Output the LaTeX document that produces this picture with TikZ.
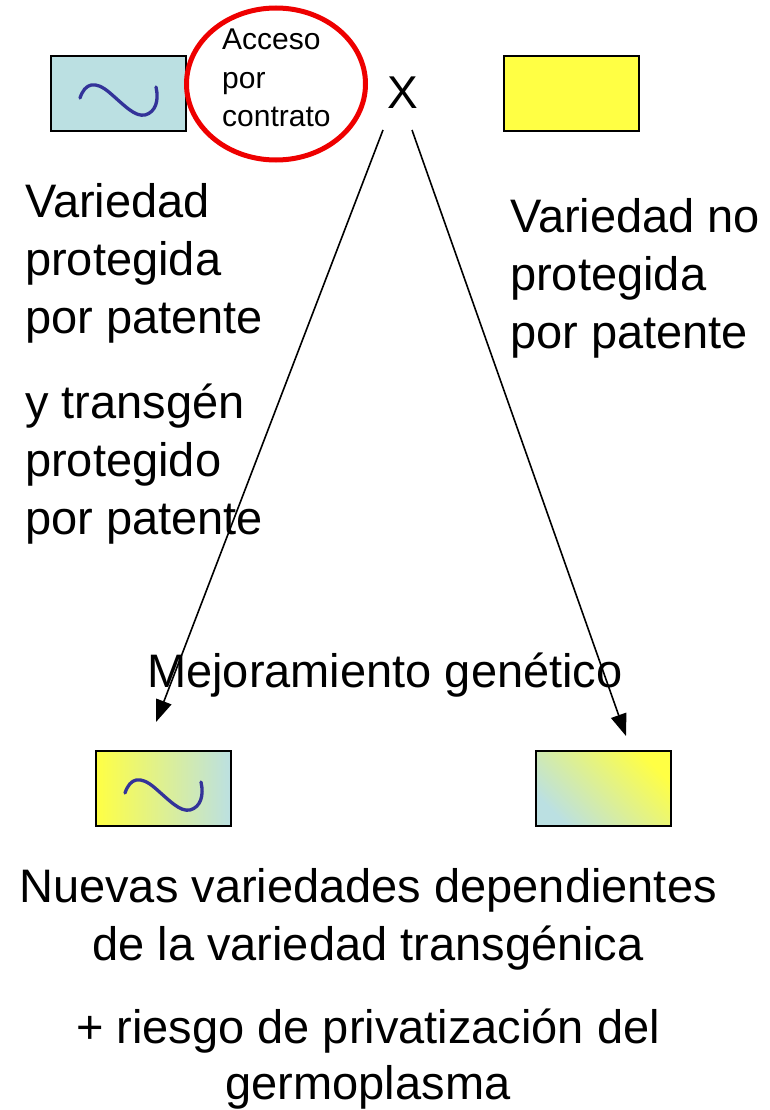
\documentclass[tikz,border=0pt]{standalone}
\usepackage{fontspec}
\setmainfont{Liberation Sans}
\usetikzlibrary{arrows.meta,shapes.geometric}
\definecolor{lb}{RGB}{187,224,226}
\definecolor{ylw}{RGB}{255,255,68}
\definecolor{wave}{RGB}{51,51,153}
\definecolor{ringred}{RGB}{238,0,0}
\tikzset{
  box/.style={draw=black,line width=2pt,minimum width=135pt,minimum height=75pt,inner sep=0pt},
  big/.style={font=\fontsize{47}{58}\selectfont,inner sep=0pt},
  small/.style={font=\fontsize{30}{38.5}\selectfont,inner sep=0pt},
  link/.style={line width=1.6pt,-{Triangle[length=22pt,width=16pt]}},
  wavy/.style={draw=wave,line width=3.3pt,line cap=round}
}
\begin{document}
\begin{tikzpicture}[x=1pt,y=-1pt]
\useasboundingbox (0,0) rectangle (770,1110);
% top boxes
\node[box,fill=lb,anchor=north west] (pat) at (50,55) {};
\node[box,fill=ylw,anchor=north west] (nopat) at (503,55) {};
% bottom boxes
\node[box,left color=ylw,right color=lb,anchor=north west] (newl) at (95,750) {};
\node[box,top color=ylw,bottom color=lb,shading angle=-45,anchor=north west] (newr) at (535,750) {};
% waves
\draw[wavy] (80,98) .. controls (85,83) and (95,80) .. (110,93)
  .. controls (125,106) and (135,117) .. (145,115)
  .. controls (156,112) and (159,100) .. (156,87);
\draw[wavy] (125,793) .. controls (130,778) and (140,775) .. (155,788)
  .. controls (170,801) and (180,812) .. (190,810)
  .. controls (201,807) and (204,795) .. (201,782);
% ellipse
\node[ellipse,draw=ringred,line width=5pt,minimum width=179pt,minimum height=152pt,inner sep=0pt] (ring) at (276,84) {};
\node[small,anchor=base west,align=left] (acc) at (222,127) {Acceso\\por\\contrato};
% cross
\node[font=\fontsize{46}{50}\selectfont,inner sep=0pt,anchor=base] (x) at (403,109) {X};
\coordinate (xl) at (383,130);
\coordinate (xr) at (412,130);
% texts
\node[big,anchor=base west,align=left] (t1) at (25,333) {Variedad\\protegida\\por patente};
\node[big,anchor=base west,align=left] (t2) at (25,534) {y transgén\\protegido\\por patente};
\node[big,anchor=base west,align=left] (t3) at (510,348) {Variedad no\\protegida\\por patente};
\node[big,anchor=base west] (mej) at (147,687) {Mejoramiento genético};
\node[big,anchor=base,align=center] (b1) at (368,960) {Nuevas variedades dependientes\\de la variedad transgénica};
\node[big,anchor=base,align=center,font=\fontsize{47}{56}\selectfont] (b2) at (368,1099) {+ riesgo de privatización del\\germoplasma};
% arrows
\coordinate (tl) at (156,722);
\coordinate (tr) at (626,736);
\draw[link] (xl) -- (tl);
\draw[link] (xr) -- (tr);
\end{tikzpicture}
\end{document}
